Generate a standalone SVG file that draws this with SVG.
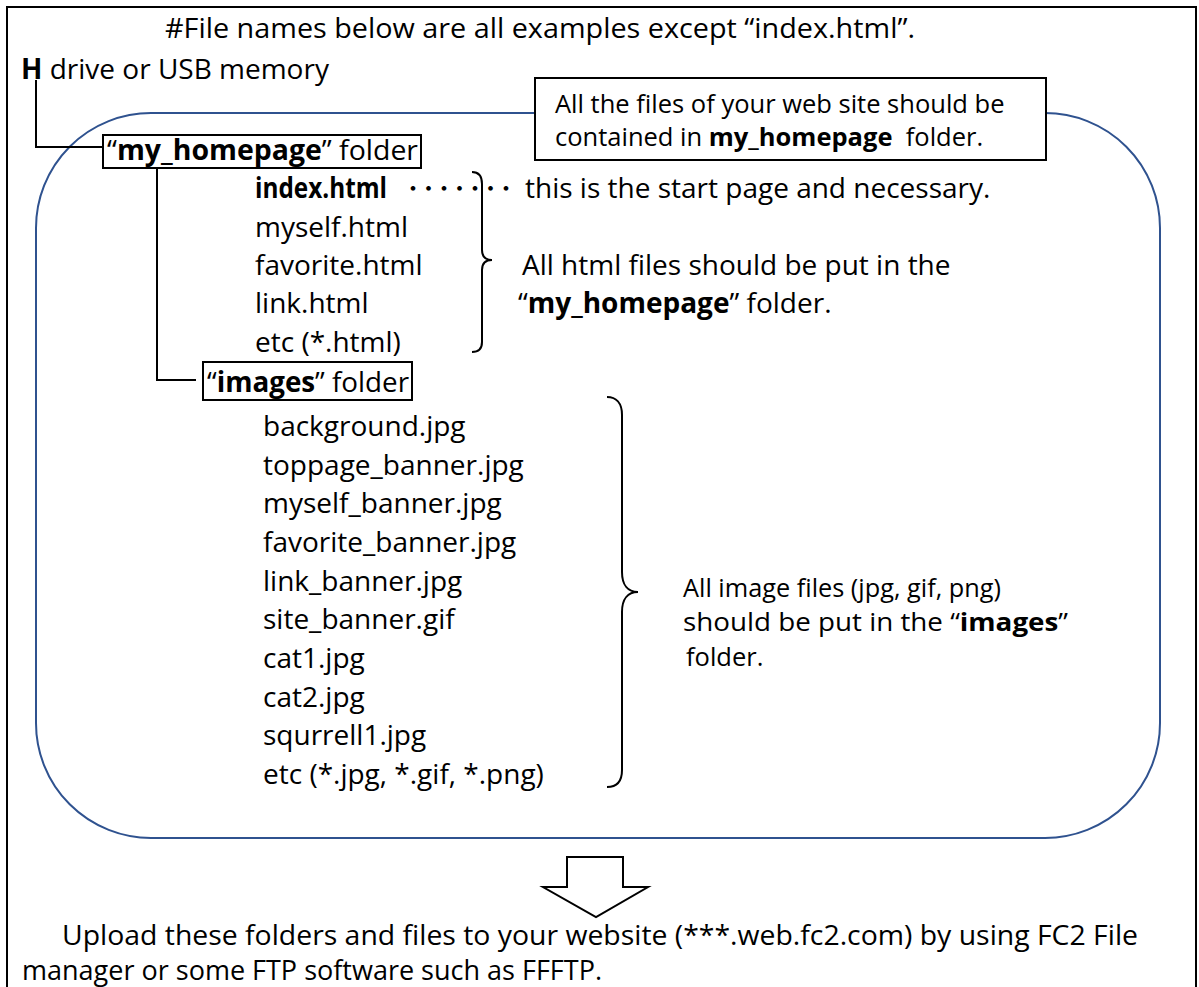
<svg xmlns="http://www.w3.org/2000/svg" width="1199" height="987" viewBox="0 0 1199 987">
<style>
.t{font-family:"Open Sans","Liberation Sans",sans-serif;font-size:28px;fill:#000}
.c{font-size:25.5px}
.b{font-weight:700}
.ln{fill:none;stroke:#000;stroke-width:2}
.dots{font-family:"Noto Sans CJK JP",sans-serif;font-size:22px;letter-spacing:-6.5px;fill:#000}
</style>
<rect x="7" y="7" width="1189" height="995" fill="#fff" stroke="#000" stroke-width="2"/>
<g id="container">
<rect x="36" y="113" width="1124" height="725" rx="115" ry="115" fill="none" stroke="#2F528F" stroke-width="2"/>
</g>
<g id="connectors">
<path class="ln" d="M36,80 V147 H103"/>
<path class="ln" d="M157,168 V380 H196"/>
<path class="ln" d="M472,172 C479,172 482,176 482,184 V250 C482,257 486,260 492,260 C486,260 482,263 482,270 V342 C482,349 479,352 472,352"/>
<path class="ln" d="M607,397 C616,397 622,403 622,415 V572 C622,585 628,592 638,592 C628,592 622,599 622,612 V770 C622,782 616,787 607,787"/>
<polygon points="567,857 623,857 623,887 648,887 596,917 543,887 567,887" fill="#fff" stroke="#000" stroke-width="2"/>
</g>
<g id="title"><text class="t" x="165" y="38" textLength="750" lengthAdjust="spacingAndGlyphs">#File names below are all examples except “index.html”.</text></g>
<g id="drive"><text class="t" x="21" y="79"><tspan class="b">H</tspan> drive or USB memory</text></g>
<g id="callout">
<rect x="535" y="78" width="511" height="82" fill="#fff" stroke="#000" stroke-width="2"/>
<text class="t c" x="555" y="113">All the files of your web site should be</text>
<text class="t c" x="555" y="146" xml:space="preserve">contained in <tspan class="b">my_homepage</tspan>  folder.</text>
</g>
<g id="my_homepage">
<rect x="103" y="135" width="318" height="33" fill="none" stroke="#000" stroke-width="2"/>
<text class="t" x="107" y="160" textLength="311" lengthAdjust="spacingAndGlyphs">“<tspan class="b">my_homepage</tspan>” folder</text>
</g>
<g id="html_files">
<text class="t b" x="255" y="198" textLength="132" lengthAdjust="spacingAndGlyphs">index.html</text>
<text class="dots" x="402" y="196">・・・・・・・</text>
<text class="t" x="525" y="198">this is the start page and necessary.</text>
<text class="t" x="255" y="237">myself.html</text>
<text class="t" x="255" y="275">favorite.html</text>
<text class="t" x="255" y="313">link.html</text>
<text class="t" x="255" y="352">etc (*.html)</text>
<text class="t" x="522" y="275">All html files should be put in the</text>
<text class="t" x="518" y="313">“<tspan class="b">my_homepage</tspan>” folder.</text>
</g>
<g id="images">
<rect x="203" y="362" width="209" height="38" fill="none" stroke="#000" stroke-width="2"/>
<text class="t" x="207" y="392" textLength="202" lengthAdjust="spacingAndGlyphs">“<tspan class="b">images</tspan>” folder</text>
</g>
<g id="image_files">
<text class="t" x="263" y="436">background.jpg</text>
<text class="t" x="263" y="475">toppage_banner.jpg</text>
<text class="t" x="263" y="513">myself_banner.jpg</text>
<text class="t" x="263" y="552">favorite_banner.jpg</text>
<text class="t" x="263" y="591">link_banner.jpg</text>
<text class="t" x="263" y="629">site_banner.gif</text>
<text class="t" x="263" y="668">cat1.jpg</text>
<text class="t" x="263" y="707">cat2.jpg</text>
<text class="t" x="263" y="745">squrrell1.jpg</text>
<text class="t" x="263" y="784">etc (*.jpg, *.gif, *.png)</text>
<text class="t c" x="683" y="597" textLength="318" lengthAdjust="spacingAndGlyphs">All image files (jpg, gif, png)</text>
<text class="t c" x="683" y="631" textLength="385" lengthAdjust="spacingAndGlyphs">should be put in the “<tspan class="b">images</tspan>”</text>
<text class="t c" x="686" y="666">folder.</text>
</g>
<g id="upload">
<text class="t" x="62" y="945" textLength="1076" lengthAdjust="spacingAndGlyphs">Upload these folders and files to your website (***.web.fc2.com) by using FC2 File</text>
<text class="t" x="22" y="980" textLength="580" lengthAdjust="spacingAndGlyphs">manager or some FTP software such as FFFTP.</text>
</g>
</svg>
